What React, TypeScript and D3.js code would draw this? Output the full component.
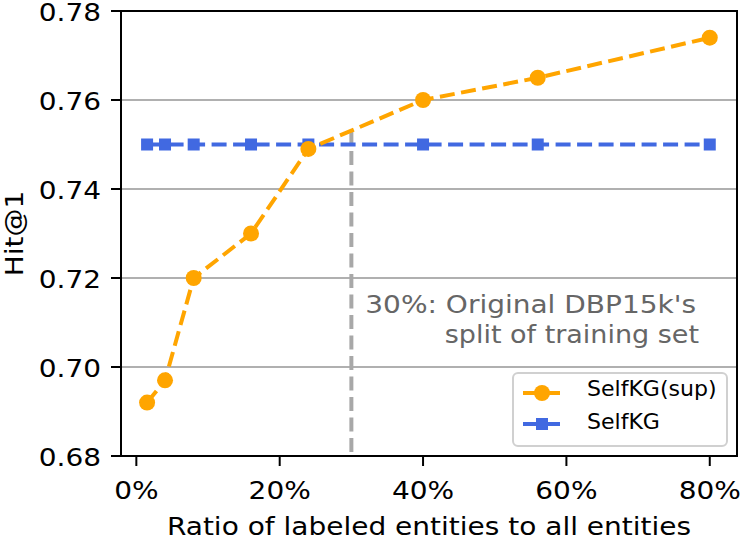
import * as d3 from 'd3'

const ratios = [1.5, 4, 8, 16, 24, 40, 56, 80]
const supHits = [0.692, 0.697, 0.72, 0.73, 0.749, 0.76, 0.765, 0.774]
const selfHits = [0.75, 0.75, 0.75, 0.75, 0.75, 0.75, 0.75, 0.75]
const xTicks = [0, 20, 40, 60, 80]
const yTicks = [0.68, 0.7, 0.72, 0.74, 0.76, 0.78]
const splitRatio = 30

const width = 747
const height = 542
const marginLeft = 121
const marginRight = 10
const marginTop = 11
const marginBottom = 86
const font = 'DejaVu Sans, sans-serif'
const orange = '#ffa500'
const blue = '#4169e1'

// the glyphs in the picture are a bit wider than tall, so stretch along the text
const Label = ({ x, y, rotate = 0, size, stretch = 1.12, anchor = 'start', fill = 'black', children }: any) => (
  <text
    transform={`translate(${x},${y}) rotate(${rotate}) scale(${stretch},1)`}
    textAnchor={anchor}
    fontSize={size}
    fill={fill}
  >
    {children}
  </text>
)

export default function App() {
  const x = d3.scaleLinear([-2.14, 83.8], [marginLeft, width - marginRight])
  const y = d3.scaleLinear([0.68, 0.78], [height - marginBottom, marginTop])

  const line = d3
    .line<number>()
    .x((_, i) => x(ratios[i]))
    .y((d) => y(d))

  // where the supervised line crosses 30%
  const splitY = d3.scaleLinear([24, 40], [supHits[4], supHits[5]])(splitRatio)

  const bottom = height - marginBottom
  const right = width - marginRight

  return (
    <svg
      width={width}
      height={height}
      style={{ position: 'absolute', left: 0, top: 0, background: 'white' }}
      fontFamily={font}
    >
      {/* grid */}
      {yTicks.map((t) => (
        <line key={t} x1={marginLeft} x2={right} y1={y(t)} y2={y(t)} stroke="#b0b0b0" strokeWidth={2} />
      ))}

      {/* 30% marker */}
      <line
        x1={x(splitRatio)}
        x2={x(splitRatio)}
        y1={y(splitY)}
        y2={bottom}
        stroke="#a8a8a8"
        strokeWidth={4}
        strokeDasharray="14 6.5"
      />
      <Label x={696} y={313} size={25} anchor="end" fill="#666">30%: Original DBP15k's</Label>
      <Label x={699} y={343} size={25} stretch={1.08} anchor="end" fill="#666">split of training set</Label>

      {/* SelfKG */}
      <path d={line(selfHits) ?? ''} fill="none" stroke={blue} strokeWidth={4} strokeDasharray="15 6.5" />
      {ratios.map((r, i) => (
        <rect key={r} x={x(r) - 6} y={y(selfHits[i]) - 6} width={12} height={12} fill={blue} />
      ))}

      {/* SelfKG(sup) */}
      <path d={line(supHits) ?? ''} fill="none" stroke={orange} strokeWidth={4} strokeDasharray="15 6.5" />
      {ratios.map((r, i) => (
        <circle key={r} cx={x(r)} cy={y(supHits[i])} r={8} fill={orange} />
      ))}

      {/* spines */}
      <rect
        x={marginLeft}
        y={marginTop}
        width={right - marginLeft}
        height={bottom - marginTop}
        fill="none"
        stroke="black"
        strokeWidth={2}
      />

      {/* y axis */}
      {yTicks.map((t) => (
        <g key={t}>
          <line x1={marginLeft - 10} x2={marginLeft} y1={y(t)} y2={y(t)} stroke="black" strokeWidth={2} />
          <Label x={marginLeft - 20} y={y(t) + 9.5} size={25} anchor="end">
            {t.toFixed(2)}
          </Label>
        </g>
      ))}
      <Label x={23} y={(marginTop + bottom) / 2} rotate={-90} size={25} anchor="middle">
        Hit@1
      </Label>

      {/* x axis */}
      {xTicks.map((t) => (
        <g key={t}>
          <line x1={x(t)} x2={x(t)} y1={bottom} y2={bottom + 10} stroke="black" strokeWidth={2} />
          <Label x={x(t)} y={498.5} size={25} anchor="middle">
            {t}%
          </Label>
        </g>
      ))}
      <Label x={(marginLeft + right) / 2} y={534.5} size={25} anchor="middle">
        Ratio of labeled entities to all entities
      </Label>

      {/* legend */}
      <rect x={513} y={373} width={214} height={73} rx={5} fill="white" fillOpacity={0.8} stroke="#d0d0d0" strokeWidth={2} />
      <line x1={523} x2={560} y1={393} y2={393} stroke={orange} strokeWidth={4} />
      <circle cx={542} cy={393} r={8} fill={orange} />
      <Label x={587} y={396} size={21} stretch={1.05}>SelfKG(sup)</Label>
      <line x1={523} x2={560} y1={424} y2={424} stroke={blue} strokeWidth={4} />
      <rect x={536} y={418} width={12} height={12} fill={blue} />
      <Label x={587} y={428.5} size={21} stretch={1.05}>SelfKG</Label>
    </svg>
  )
}
